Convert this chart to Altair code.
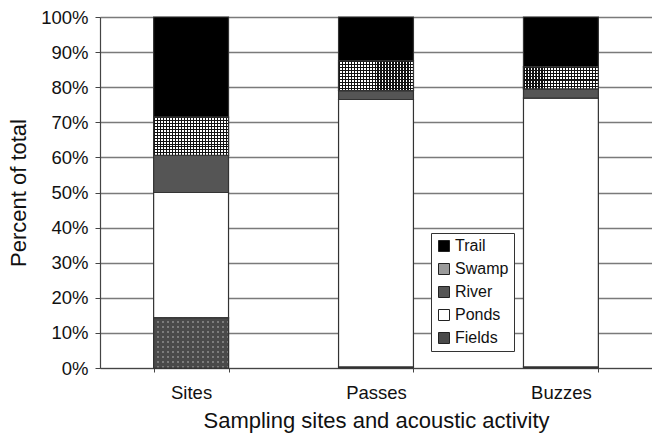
import altair as alt
import pandas as pd

categories = ["Sites", "Passes", "Buzzes"]
habitats = ["Fields", "Ponds", "River", "Swamp", "Trail"]
fields = [14.3, 0.3, 0.3]
ponds = [35.7, 76.2, 76.6]
river = [10.6, 2.5, 2.6]
swamp = [10.9, 8.5, 6.3]
trail = [28.5, 12.5, 14.2]
y_ticks = [0, 0.1, 0.2, 0.3, 0.4, 0.5, 0.6, 0.7, 0.8, 0.9, 1.0]

legend_order = ["Trail", "Swamp", "River", "Ponds", "Fields"]
legend_colors = ["#000000", "#9a9a9a", "#555555", "#ffffff", "#4a4a4a"]

rows = []
for i, c in enumerate(categories):
    base = 0.0
    for h, vals in zip(habitats, [fields, ponds, river, swamp, trail]):
        v = vals[i]
        rows.append(dict(cat=c, hab=h, y0=base / 100, y1=(base + v) / 100))
        base += v
df = pd.DataFrame(rows)

FONT = "Liberation Sans"
H = 351

x_enc = alt.X(
    "cat:N",
    sort=categories,
    scale=alt.Scale(paddingInner=0.595, paddingOuter=0.29),
    axis=alt.Axis(
        title="Sampling sites and acoustic activity",
        labelAngle=0,
        labelFontSize=18.5,
        labelFont=FONT,
        labelColor="#111",
        labelPadding=11,
        titleFontSize=22,
        titleFont=FONT,
        titleFontWeight="normal",
        titleColor="#111",
        titlePadding=9,
        domainColor="#444",
        domainWidth=1.2,
        tickBand="extent",
        tickColor="#444",
        tickSize=4,
        grid=False,
    ),
)
y_enc = alt.Y(
    "y0:Q",
    scale=alt.Scale(domain=[0, 1], nice=False),
    axis=alt.Axis(
        title="Percent of total",
        values=y_ticks,
        format=".0%",
        labelFontSize=18.5,
        labelFont=FONT,
        labelColor="#111",
        labelPadding=7,
        titleFontSize=22,
        titleFont=FONT,
        titleFontWeight="normal",
        titleColor="#111",
        titlePadding=10,
        domainColor="#444",
        domainWidth=1.2,
        tickColor="#444",
        tickSize=5,
        gridColor="#7a7a7a",
        gridWidth=1.4,
    ),
)

bars = alt.Chart(df).mark_bar(stroke="#333", strokeWidth=1.2).encode(
    x=x_enc,
    y=y_enc,
    y2="y1:Q",
    color=alt.Color(
        "hab:N",
        scale=alt.Scale(domain=legend_order, range=legend_colors),
        legend=alt.Legend(
            title=None,
            orient="none",
            legendX=331,
            legendY=216,
            strokeColor="#333",
            fillColor="white",
            padding=5,
            symbolType="square",
            symbolSize=121,
            symbolStrokeColor="#222",
            symbolStrokeWidth=1,
            labelFontSize=16,
            labelFont=FONT,
            labelColor="#111",
            rowPadding=7,
            labelOffset=3,
        ),
    ),
)


def stripes(n, ink, paper, frac):
    s = []
    for k in range(n):
        a = k / n
        b = (k + frac) / n
        c = (k + 1) / n
        s += [
            alt.GradientStop(color=ink, offset=a),
            alt.GradientStop(color=ink, offset=b),
            alt.GradientStop(color=paper, offset=b),
            alt.GradientStop(color=paper, offset=c),
        ]
    return s


def grad(stops, vertical):
    if vertical:
        return alt.Gradient(gradient="linear", stops=stops, x1=0, x2=1, y1=0, y2=0)
    return alt.Gradient(gradient="linear", stops=stops, x1=0, x2=0, y1=0, y2=1)


layers = [bars]
for i, c in enumerate(categories):
    # swamp: black grid on white
    sub = alt.Chart(df).transform_filter(
        (alt.datum.hab == "Swamp") & (alt.datum.cat == c)
    )
    nh = max(3, round(swamp[i] / 100 * H / 3))
    layers.append(
        sub.mark_bar(color=grad(stripes(25, "#111", "#fff", 0.35), True)).encode(
            x=x_enc, y=y_enc, y2="y1:Q"
        )
    )
    layers.append(
        sub.mark_bar(
            color=grad(stripes(nh, "#111", "rgba(0,0,0,0)", 0.35), False),
            stroke="#333",
            strokeWidth=1.2,
        ).encode(x=x_enc, y=y_enc, y2="y1:Q")
    )
    # fields: light dots on dark grey
    fh = fields[i] / 100 * H
    if fh >= 10:
        subf = alt.Chart(df).transform_filter(
            (alt.datum.hab == "Fields") & (alt.datum.cat == c)
        )
        nfh = max(2, round(fh / 5))
        layers.append(
            subf.mark_bar(color=grad(stripes(15, "#4a4a4a", "#7c7c7c", 0.6), True)).encode(
                x=x_enc, y=y_enc, y2="y1:Q"
            )
        )
        layers.append(
            subf.mark_bar(
                color=grad(stripes(nfh, "#4a4a4a", "rgba(0,0,0,0)", 0.6), False),
                stroke="#333",
                strokeWidth=1.2,
            ).encode(x=x_enc, y=y_enc, y2="y1:Q")
        )

chart = (
    alt.layer(*layers)
    .properties(
        width=552,
        height=H,
        autosize=alt.AutoSizeParams(type="none"),
        padding={"left": 100, "top": 17, "right": 0, "bottom": 71},
    )
    .configure_view(stroke=None)
    .configure(background="white")
)

chart.save("out.html", embed_options={"renderer": "svg", "actions": False})
